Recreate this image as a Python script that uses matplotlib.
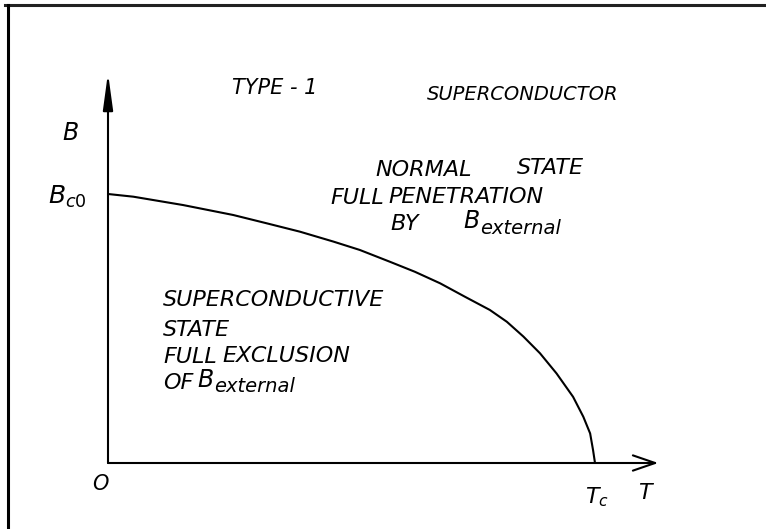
import matplotlib
matplotlib.use("Agg")
import matplotlib.pyplot as plt
from matplotlib.lines import Line2D

# critical field curve, T in units of Tc, B in units of Bc0
curve_T = [0.0, 0.052, 0.154, 0.257, 0.326, 0.394, 0.463, 0.517, 0.579, 0.630, 0.682,
           0.733, 0.784, 0.819, 0.853, 0.887, 0.921, 0.955, 0.976, 0.990, 0.996, 1.0]
curve_B = [1.0, 0.990, 0.959, 0.922, 0.891, 0.860, 0.823, 0.792, 0.748, 0.711, 0.668,
           0.618, 0.569, 0.525, 0.470, 0.408, 0.333, 0.246, 0.172, 0.110, 0.048, 0.0]

# where the hand-drawn axis arrows end
T_axis_end = 1.13
B_axis_end = 1.45

W, H = 766, 529
plt.rcParams['font.family'] = ['DejaVu Sans']
plt.rcParams['mathtext.fontset'] = 'dejavusans'

fig = plt.figure(figsize=(W / 100, H / 100), dpi=100)
ax = fig.add_axes([0, 0, 1, 1])
# origin of the sketch sits at pixel (108, 463); Tc is 487 px, Bc0 is 269 px
ax.set_xlim(-108 / 487, (W - 108) / 487)
ax.set_ylim(-(H - 463) / 269, 463 / 269)
ax.axis('off')

# scanned page border (top and left only)
fig.add_artist(Line2D([5 / W, 1], [1 - 5 / H, 1 - 5 / H], color='#222222', lw=2.2))
fig.add_artist(Line2D([8 / W, 8 / W], [0, 1 - 5 / H], color='black', lw=2.2))

# axes
ax.annotate("", xy=(T_axis_end, 0), xytext=(0, 0),
            arrowprops=dict(arrowstyle="->,head_length=1.6,head_width=0.55",
                            lw=1.5, color='black', shrinkA=0, shrinkB=0))
ax.annotate("", xy=(0, B_axis_end), xytext=(0, 0),
            arrowprops=dict(arrowstyle="-|>,head_length=2.2,head_width=0.3",
                            lw=1.5, color='black', shrinkA=0, shrinkB=0))

ax.plot(curve_T, curve_B, color='black', lw=1.5, solid_capstyle='round',
        solid_joinstyle='round')


def put(x, y, s, size=16, ha='left'):
    fig.text(x / W, 1 - y / H, s, fontsize=size, style='oblique',
             ha=ha, va='center', color='black')


put(232, 88, "TYPE - 1", size=15)
put(427, 94, "SUPERCONDUCTOR", size=14)

put(70, 133, "B", size=17, ha='center')
put(48, 197, "$B_{c0}$", size=18)
put(100, 484, "O", size=15, ha='center')
put(597, 497, "$T_c$", size=16, ha='center')
put(645, 493, "T", size=16, ha='center')

put(375, 170, "NORMAL")
put(517, 168, "STATE")
put(330, 198, "FULL")
put(388, 197, "PENETRATION")
put(390, 224, "BY")
put(463, 221, "B", size=17)
put(480, 228, "external", size=14)

put(163, 300, "SUPERCONDUCTIVE")
put(163, 330, "STATE")
put(163, 357, "FULL")
put(222, 356, "EXCLUSION")
put(163, 383, "OF")
put(197, 380, "B", size=17)
put(214, 387, "external", size=14)

fig.savefig("out.png", dpi=100, facecolor='white')
